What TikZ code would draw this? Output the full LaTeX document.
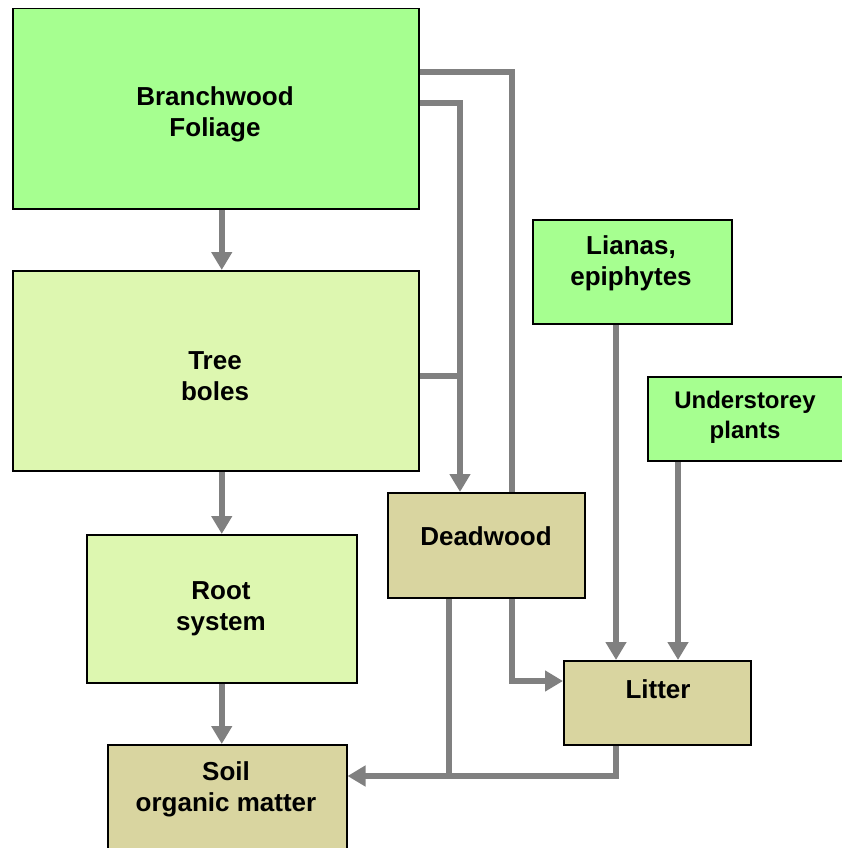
\documentclass[tikz,border=0pt]{standalone}
\usepackage{fontspec}
\setmainfont{Liberation Sans}
\usetikzlibrary{arrows.meta}
\definecolor{brightgreen}{RGB}{166,255,144}
\definecolor{palegreen}{RGB}{221,247,176}
\definecolor{tan}{RGB}{217,213,160}
\definecolor{linegray}{RGB}{128,128,128}
\pgfdeclarelayer{bg}
\pgfsetlayers{bg,main}
\tikzset{
  box/.style={draw=black, line width=1.5pt, anchor=north west, inner sep=0pt},
  lbl/.style={align=center, font=\bfseries\fontsize{26}{31}\selectfont, inner sep=0pt},
  smalllbl/.style={align=center, font=\bfseries\fontsize{24}{30}\selectfont, inner sep=0pt},
  ln/.style={draw=linegray, line width=5.5pt},
  arr/.style={ln, -{Triangle[length=18pt,width=20pt]}},
}
\begin{document}
\begin{tikzpicture}[x=1pt,y=-1pt]
\useasboundingbox (0,0) rectangle (842,848);
\clip (0,0) rectangle (842,848);
% boxes
\node[box, fill=brightgreen, minimum width=406pt, minimum height=200pt] (branch) at (12,8) {};
\node[box, fill=palegreen, minimum width=406pt, minimum height=200pt] (boles) at (12,270) {};
\node[box, fill=palegreen, minimum width=270pt, minimum height=148pt] (root) at (86,534) {};
\node[box, fill=tan, minimum width=239pt, minimum height=130pt] (soil) at (107,744) {};
\node[box, fill=tan, minimum width=197pt, minimum height=105pt] (dead) at (387,492) {};
\node[box, fill=brightgreen, minimum width=199pt, minimum height=104pt] (lianas) at (532,219) {};
\node[box, fill=brightgreen, minimum width=210pt, minimum height=84pt] (under) at (647,376) {};
\node[box, fill=tan, minimum width=187pt, minimum height=84pt] (litter) at (563,660) {};
% labels
\node[lbl] (branchT) at (215,114) {Branchwood\\Foliage};
\node[lbl] (bolesT) at (215,376) {Tree\\boles};
\node[lbl] (rootT) at (221,609) {Root\\system};
\node[lbl] (soilT) at (226,789) {Soil\\organic matter};
\node[lbl] (deadT) at (486,536) {Deadwood};
\node[lbl] (lianasT) at (631,263) {Lianas,\\epiphytes};
\node[smalllbl] (underT) at (745,417) {Understorey\\plants};
\node[lbl] (litterT) at (658,689) {Litter};
% junction coordinates
\coordinate (j1) at (512,72);
\coordinate (j2) at (460,103);
\coordinate (j3) at (460,376);
\coordinate (j4) at (512,681);
\coordinate (j5) at (616,0);
\coordinate (j7) at (678,0);
\coordinate (j6) at (449,776);
\begin{pgfonlayer}{bg}
\draw[arr] (branch.south -| root.north) -- (boles.north -| root.north);
\draw[arr] (boles.south -| root.north) -- (root.north);
\draw[arr] (root.south) -- (root.south |- soil.north);
\draw[ln] (branch.east |- j1) -- (j1) -- (j1 |- dead.north);
\draw[arr] (branch.east |- j2) -- (j2) -- (j2 |- dead.north);
\draw[ln] (boles.east |- j3) -- (j3);
\draw[arr] (j1 |- dead.south) -- (j4) -- (litter.west |- j4);
\draw[arr] (lianas.south -| j5) -- (j5 |- litter.north);
\draw[arr] (under.south -| j7) -- (j7 |- litter.north);
\draw[arr] (dead.south -| j6) -- (j6) -- (soil.east |- j6);
\draw[ln] (litter.south -| j5) -- (j5 |- j6) -- (j6);
\end{pgfonlayer}
\end{tikzpicture}
\end{document}
